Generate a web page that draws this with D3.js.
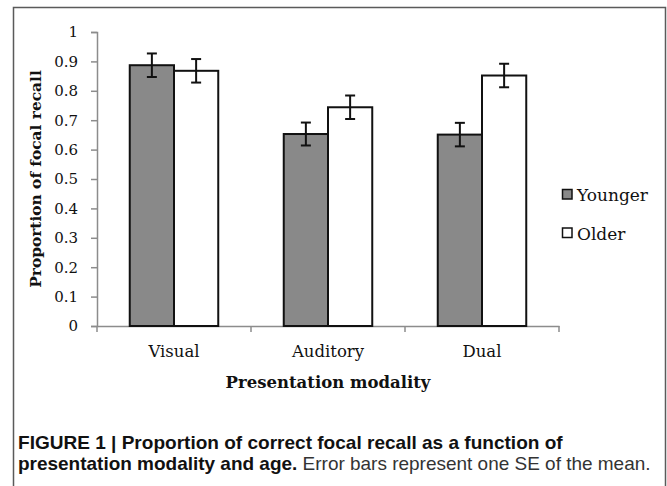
<!DOCTYPE html>
<html>
<head>
<meta charset="utf-8">
<script src="https://cdn.jsdelivr.net/npm/d3@7"></script>
<style>
  body { margin: 0; background: #fff; }
  svg { display: block; }
</style>
</head>
<body>
<div id="chart"></div>
<script>
const categories = ['Visual', 'Auditory', 'Dual']
const series = ['Younger', 'Older']
const younger = [0.887, 0.653, 0.651]
const older = [0.868, 0.744, 0.852]
const youngerSE = [0.040, 0.039, 0.040]
const olderSE = [0.040, 0.040, 0.040]
const yTicks = [0, 0.1, 0.2, 0.3, 0.4, 0.5, 0.6, 0.7, 0.8, 0.9, 1]

const dimentions = { width: 667, height: 486 }
const margin = { top: 32, right: 108, bottom: 160, left: 97 }

const serifFont = "'DejaVu Serif', 'Liberation Serif', serif"
const fills = { Younger: '#898989', Older: '#ffffff' }

const rows = categories.map((c, i) => ({
  category: c,
  bars: [
    { key: 'Younger', value: younger[i], se: youngerSE[i] },
    { key: 'Older', value: older[i], se: olderSE[i] }
  ]
}))

const svg = d3.select('#chart')
  .append('svg')
  .attr('width', dimentions.width)
  .attr('height', dimentions.height)

// frame (open at the bottom)
svg.append('path')
  .attr('d', 'M13.5,486 V7.5 H665.5 V486')
  .attr('fill', 'none')
  .attr('stroke', '#5a5a5a')
  .attr('stroke-width', 1.5)

const x0 = d3.scaleBand()
  .domain(categories)
  .range([margin.left, dimentions.width - margin.right])

const x1 = d3.scaleBand()
  .domain(series)
  .range([0, x0.bandwidth()])
  .paddingOuter(0.74)

const y = d3.scaleLinear()
  .domain([0, 1])
  .range([dimentions.height - margin.bottom, margin.top])

// y axis
const yAxis = svg.append('g')
  .attr('transform', `translate(${margin.left},0)`)
  .call(d3.axisLeft(y).tickValues(yTicks).tickFormat(d3.format('~g')).tickSize(6).tickPadding(13))

yAxis.select('.domain').attr('stroke', '#8c8c8c').attr('stroke-width', 1.5)
yAxis.selectAll('.tick line').attr('stroke', '#8c8c8c').attr('stroke-width', 1.5)
yAxis.selectAll('.tick text')
  .attr('font-family', serifFont)
  .attr('font-size', 15)
  .attr('fill', '#111')

// x axis
const xAxis = svg.append('g')
  .attr('transform', `translate(0,${y(0)})`)
  .call(d3.axisBottom(x0).tickSize(0).tickPadding(0))

xAxis.select('.domain').attr('stroke', '#8c8c8c').attr('stroke-width', 1.5)
xAxis.selectAll('.tick text')
  .attr('dy', 0)
  .attr('y', 31)
  .attr('font-family', serifFont)
  .attr('font-size', 16.5)
  .attr('fill', '#111')

// category boundary ticks
const bounds = categories.map(c => x0(c)).concat([x0.range()[1]])
svg.append('g')
  .selectAll('line')
  .data(bounds)
  .join('line')
  .attr('x1', d => d)
  .attr('x2', d => d)
  .attr('y1', y(0))
  .attr('y2', y(0) + 6)
  .attr('stroke', '#8c8c8c')
  .attr('stroke-width', 1.5)

// bars
const group = svg.append('g')
  .selectAll('g')
  .data(rows)
  .join('g')
  .attr('transform', d => `translate(${x0(d.category)},0)`)

group.selectAll('rect')
  .data(d => d.bars)
  .join('rect')
  .attr('x', d => x1(d.key))
  .attr('width', x1.bandwidth())
  .attr('y', d => y(d.value))
  .attr('height', d => y(0) - y(d.value))
  .attr('fill', d => fills[d.key])
  .attr('stroke', '#111')
  .attr('stroke-width', 2)

// error bars
const err = group.selectAll('g.err')
  .data(d => d.bars)
  .join('g')
  .attr('class', 'err')
  .attr('transform', d => `translate(${x1(d.key) + x1.bandwidth() / 2},0)`)
  .attr('stroke', '#111')
  .attr('stroke-width', 2)

err.append('line')
  .attr('y1', d => y(d.value + d.se))
  .attr('y2', d => y(d.value - d.se))
err.append('line')
  .attr('x1', -5).attr('x2', 5)
  .attr('y1', d => y(d.value + d.se))
  .attr('y2', d => y(d.value + d.se))
err.append('line')
  .attr('x1', -5).attr('x2', 5)
  .attr('y1', d => y(d.value - d.se))
  .attr('y2', d => y(d.value - d.se))

// axis titles
svg.append('text')
  .attr('transform', `translate(41,${(y(0) + y(1)) / 2}) rotate(-90)`)
  .attr('text-anchor', 'middle')
  .attr('font-family', serifFont)
  .attr('font-weight', 'bold')
  .attr('font-size', 15.4)
  .attr('fill', '#111')
  .text('Proportion of focal recall')

svg.append('text')
  .attr('x', x0.range()[0] + (x0.range()[1] - x0.range()[0]) / 2)
  .attr('y', 388)
  .attr('text-anchor', 'middle')
  .attr('font-family', serifFont)
  .attr('font-weight', 'bold')
  .attr('font-size', 16.5)
  .attr('fill', '#111')
  .text('Presentation modality')

// legend
const legend = svg.append('g')
  .attr('transform', 'translate(562,189)')
  .selectAll('g')
  .data(series)
  .join('g')
  .attr('transform', (d, i) => `translate(0,${i * 38.5})`)

legend.append('rect')
  .attr('x', 0.5)
  .attr('y', 0.5)
  .attr('width', 9.5)
  .attr('height', 9.5)
  .attr('fill', d => fills[d])
  .attr('stroke', '#111')
  .attr('stroke-width', 1.5)

legend.append('text')
  .attr('x', 15)
  .attr('y', 12)
  .attr('font-family', serifFont)
  .attr('font-size', 17)
  .attr('fill', '#111')
  .text(d => d)

// caption
const capFont = "'Liberation Sans Narrow', 'Liberation Sans', Arial, sans-serif"
const cap1 = svg.append('text')
  .attr('x', 18)
  .attr('y', 449)
  .attr('font-family', capFont)
  .attr('font-weight', 'bold')
  .attr('font-size', 17)
  .attr('fill', '#111')
  .text('FIGURE 1 | Proportion of correct focal recall as a function of')

const cap2 = svg.append('text')
  .attr('x', 18)
  .attr('y', 470)
  .attr('font-family', capFont)
  .attr('font-size', 17)
  .attr('fill', '#111')
cap2.append('tspan').attr('font-weight', 'bold').text('presentation modality and age.')
cap2.append('tspan').attr('fill', '#333').text(' Error bars represent one SE of the mean.')

// scale caption lines to the printed width
const fit = (sel, target) => {
  const w = sel.node().getComputedTextLength()
  sel.attr('font-size', 17 * target / w)
}
fit(cap1, 545)
fit(cap2, 633)
</script>
</body>
</html>
